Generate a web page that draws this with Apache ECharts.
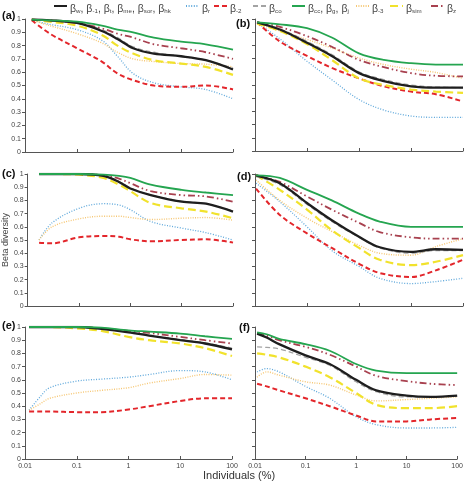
<!DOCTYPE html>
<html><head><meta charset="utf-8">
<script src="https://cdn.jsdelivr.net/npm/echarts@6/dist/echarts.min.js"></script>
<style>html,body{margin:0;padding:0;background:#fff}#c{width:466px;height:483px}</style>
</head><body><div id="c"></div>
<script>
// ---- names / legend ----
const seriesNames = ['βw, β-1, βt, βme, βsor, βhk','βr','β-2','βco','βcc, βg, βj','β-3','βsim','βz'];
const panelLabels = ['(a)','(b)','(c)','(d)','(e)','(f)'];
const xTickLabels = ['0.01','0.1','1','10','100'];

// ---- panel (a) ----
const xA = [0.0135, 0.03, 0.1, 0.3, 0.6, 1.2, 3, 10, 30, 100];
const aBlack  = [0.995, 0.99, 0.97, 0.91, 0.85, 0.78, 0.74, 0.72, 0.69, 0.62];
const aBlue   = [0.99, 0.96, 0.92, 0.84, 0.72, 0.59, 0.52, 0.49, 0.47, 0.40];
const aRed    = [0.99, 0.89, 0.78, 0.68, 0.59, 0.54, 0.50, 0.49, 0.50, 0.47];
const aGray   = [0.995, 0.99, 0.975, 0.92, 0.86, 0.79, 0.75, 0.72, 0.69, 0.63];
const aGreen  = [0.995, 0.99, 0.98, 0.95, 0.92, 0.90, 0.86, 0.83, 0.81, 0.77];
const aOrange = [0.99, 0.95, 0.89, 0.82, 0.75, 0.70, 0.68, 0.665, 0.66, 0.64];
const aYellow = [0.995, 0.98, 0.95, 0.88, 0.80, 0.74, 0.69, 0.665, 0.64, 0.58];
const aBrown  = [0.995, 0.99, 0.97, 0.93, 0.89, 0.86, 0.81, 0.78, 0.75, 0.70];

// ---- panel (b) ----
const xB = [0.011, 0.03, 0.1, 0.3, 1, 3, 10, 30, 100];
const bBlack  = [0.975, 0.92, 0.82, 0.72, 0.59, 0.53, 0.49, 0.48, 0.48];
const bBlue   = [0.97, 0.85, 0.68, 0.54, 0.39, 0.31, 0.265, 0.255, 0.255];
const bRed    = [0.975, 0.83, 0.72, 0.63, 0.55, 0.49, 0.45, 0.43, 0.375];
const bGray   = [0.975, 0.925, 0.83, 0.73, 0.60, 0.54, 0.50, 0.485, 0.48];
const bGreen  = [0.975, 0.96, 0.93, 0.86, 0.74, 0.69, 0.665, 0.655, 0.655];
const bOrange = [0.965, 0.91, 0.845, 0.78, 0.705, 0.655, 0.62, 0.595, 0.55];
const bYellow = [0.965, 0.91, 0.81, 0.69, 0.55, 0.50, 0.465, 0.45, 0.44];
const bBrown  = [0.975, 0.94, 0.87, 0.79, 0.69, 0.635, 0.59, 0.57, 0.565];

// ---- panel (c) ----
const xC = [0.0167, 0.03, 0.1, 0.3, 0.6, 1, 2.5, 10, 30, 100];
const cBlack  = [1, 1, 1, 0.985, 0.94, 0.89, 0.84, 0.79, 0.775, 0.715];
const cBlue   = [0.50, 0.63, 0.74, 0.775, 0.765, 0.73, 0.64, 0.59, 0.555, 0.50];
const cRed    = [0.48, 0.475, 0.52, 0.53, 0.525, 0.505, 0.49, 0.50, 0.505, 0.48];
const cGray   = [1, 1, 1, 0.985, 0.945, 0.895, 0.84, 0.795, 0.775, 0.72];
const cGreen  = [1, 1, 1, 0.995, 0.985, 0.97, 0.92, 0.88, 0.86, 0.84];
const cOrange = [0.50, 0.60, 0.66, 0.68, 0.68, 0.67, 0.655, 0.665, 0.67, 0.65];
const cYellow = [1, 1, 0.995, 0.97, 0.92, 0.87, 0.78, 0.74, 0.715, 0.665];
const cBrown  = [1, 1, 1, 0.99, 0.965, 0.93, 0.87, 0.84, 0.83, 0.79];

// ---- panel (d) ----
const xD = [0.0105, 0.03, 0.1, 0.3, 1, 2.5, 10, 30, 100];
const dBlack  = [0.99, 0.93, 0.78, 0.65, 0.525, 0.445, 0.41, 0.43, 0.425];
const dBlue   = [0.93, 0.79, 0.60, 0.42, 0.30, 0.21, 0.17, 0.185, 0.21];
const dRed    = [0.89, 0.69, 0.55, 0.44, 0.32, 0.25, 0.22, 0.27, 0.35];
const dGray   = [0.98, 0.92, 0.77, 0.64, 0.52, 0.44, 0.40, 0.42, 0.42];
const dGreen  = [0.99, 0.97, 0.88, 0.80, 0.70, 0.64, 0.60, 0.60, 0.60];
const dOrange = [0.955, 0.80, 0.665, 0.565, 0.46, 0.40, 0.385, 0.45, 0.51];
const dYellow = [0.99, 0.88, 0.73, 0.575, 0.44, 0.35, 0.31, 0.335, 0.385];
const dBrown  = [0.99, 0.94, 0.83, 0.73, 0.63, 0.56, 0.52, 0.51, 0.51];

// ---- panel (e) ----
const xE = [0.012, 0.02, 0.03, 0.1, 0.3, 1, 2.5, 10, 30, 100];
const eBlack  = [1, 1, 1, 1, 0.985, 0.96, 0.935, 0.90, 0.875, 0.83];
const eBlue   = [0.37, 0.475, 0.54, 0.59, 0.605, 0.62, 0.64, 0.67, 0.66, 0.60];
const eRed    = [0.36, 0.36, 0.36, 0.355, 0.355, 0.375, 0.40, 0.44, 0.46, 0.46];
const eGray   = [1, 1, 1, 1, 0.99, 0.965, 0.94, 0.905, 0.88, 0.84];
const eGreen  = [1, 1, 1, 1, 0.995, 0.975, 0.965, 0.95, 0.93, 0.91];
const eOrange = [0.37, 0.42, 0.46, 0.50, 0.52, 0.54, 0.575, 0.61, 0.64, 0.635];
const eYellow = [1, 1, 1, 0.99, 0.97, 0.925, 0.90, 0.875, 0.84, 0.78];
const eBrown  = [1, 1, 1, 1, 0.99, 0.97, 0.955, 0.925, 0.90, 0.875];

// ---- panel (f) ----
const xF = [0.011, 0.017, 0.03, 0.1, 0.3, 1, 2.5, 10, 30, 100];
const fBlack  = [0.95, 0.92, 0.87, 0.785, 0.72, 0.60, 0.52, 0.48, 0.47, 0.48];
const fBlue   = [0.66, 0.685, 0.66, 0.55, 0.46, 0.32, 0.26, 0.235, 0.235, 0.24];
const fRed    = [0.57, 0.55, 0.52, 0.46, 0.40, 0.33, 0.285, 0.285, 0.30, 0.31];
const fGray   = [0.85, 0.845, 0.835, 0.77, 0.71, 0.585, 0.51, 0.47, 0.47, 0.475];
const fGreen  = [0.96, 0.945, 0.91, 0.87, 0.82, 0.72, 0.67, 0.65, 0.65, 0.65];
const fOrange = [0.62, 0.66, 0.635, 0.585, 0.56, 0.485, 0.44, 0.45, 0.46, 0.47];
const fYellow = [0.80, 0.79, 0.77, 0.70, 0.62, 0.50, 0.41, 0.385, 0.385, 0.40];
const fBrown  = [0.955, 0.935, 0.90, 0.85, 0.79, 0.70, 0.63, 0.59, 0.57, 0.56];

// panel -> [x, black, blue, red, gray, green, orange, yellow, brown]
const panels = [
  [xA, aBlack, aBlue, aRed, aGray, aGreen, aOrange, aYellow, aBrown],
  [xB, bBlack, bBlue, bRed, bGray, bGreen, bOrange, bYellow, bBrown],
  [xC, cBlack, cBlue, cRed, cGray, cGreen, cOrange, cYellow, cBrown],
  [xD, dBlack, dBlue, dRed, dGray, dGreen, dOrange, dYellow, dBrown],
  [xE, eBlack, eBlue, eRed, eGray, eGreen, eOrange, eYellow, eBrown],
  [xF, fBlack, fBlue, fRed, fGray, fGreen, fOrange, fYellow, fBrown]
];

// ---- styles ----
const styles = [
  {color:'#1e1e1e', width:2.3, type:'solid'},
  {color:'#5fa8db', width:1.3, type:[1,1.6]},
  {color:'#e3262b', width:2, type:[5,3]},
  {color:'#a3a3a3', width:1.3, type:[5,3]},
  {color:'#25a550', width:1.8, type:'solid'},
  {color:'#f6c774', width:1.4, type:[1,1.4]},
  {color:'#f1e22c', width:2.2, type:[8,4]},
  {color:'#a8414f', width:1.8, type:[7,3,1.5,3,1.5,3]}
];
const drawOrder = [1, 5, 2, 6, 3, 7, 0, 4];

const grids = [
  {left:25, top:19, width:208, height:133},
  {left:255, top:19, width:208, height:132},
  {left:25, top:174, width:208, height:132},
  {left:255, top:174, width:208, height:132},
  {left:25, top:327, width:207, height:132},
  {left:255, top:327, width:208, height:132}
];

const FONT = 'Liberation Sans, Arial, sans-serif';
const xAxes = grids.map((g, i) => ({
  type:'log', logBase:10, min:0.01, max:100, gridIndex:i,
  axisLine:{lineStyle:{color:'#555', width:1}},
  axisTick:{show:true, inside:true, length:3, lineStyle:{color:'#555'}},
  minorTick:{show:false}, splitLine:{show:false},
  axisLabel:{show:i>=4, fontSize:7, color:'#444', margin:4, fontFamily:FONT,
    formatter: v => { const k = Math.round(Math.log10(v)) + 2; return xTickLabels[k] !== undefined ? xTickLabels[k] : ''; }}
}));
const yAxes = grids.map((g, i) => ({
  type:'value', min:0, max:1, interval:0.1, gridIndex:i,
  axisLine:{show:true, lineStyle:{color:'#555', width:1}},
  axisTick:{show:true, length:3, lineStyle:{color:'#555'}},
  splitLine:{show:false},
  axisLabel:{show:i%2===0, fontSize:7, color:'#444', margin:4, fontFamily:FONT},
  name: i===2 ? 'Beta diversity' : '',
  nameLocation:'middle', nameGap:16,
  nameTextStyle:{fontSize:9, color:'#444', fontFamily:FONT}
}));

const series = [];
panels.forEach((p, pi) => {
  drawOrder.forEach(si => {
    const vals = p[si + 1];
    const st = styles[si];
    series.push({
      type:'line', name:seriesNames[si], xAxisIndex:pi, yAxisIndex:pi,
      data: p[0].map((x, k) => [x, vals[k]]),
      smooth:0.35, symbol:'none', silent:true,
      lineStyle:{color:st.color, width:st.width, type:st.type},
      itemStyle:{color:st.color}
    });
  });
});

const legendLeft = [53, 185, 213, 252, 291, 355, 389, 430];
const fmt = name => name.split(', ').map(s => '{b|β}{s|' + s.slice(1) + '}').join('{b|, }');
const legends = seriesNames.map((n, i) => ({
  data:[n], left:legendLeft[i], top:2, itemWidth:13, itemHeight:10, itemGap:0,
  padding:0, selectedMode:false, formatter:fmt,
  itemStyle:{opacity:0, borderWidth:0},
  textStyle:{color:'#444', fontFamily:FONT, padding:[0,0,0,-2],
    rich:{b:{fontSize:10.5, lineHeight:12, verticalAlign:'bottom', color:'#444', fontFamily:FONT},
          s:{fontSize:6.2, lineHeight:17, verticalAlign:'bottom', color:'#444', fontFamily:FONT}}}
}));

const labelPos = [[2,10],[236,18],[2,168],[237,171],[2,320],[239,322]];
const graphics = panelLabels.map((t, i) => ({
  type:'text', left:labelPos[i][0], top:labelPos[i][1],
  style:{text:t, font:'bold 11px ' + FONT, fill:'#111'}
}));
graphics.push({type:'text', left:203, top:470, style:{text:'Individuals (%)', font:'11px ' + FONT, fill:'#333'}});

const chart = echarts.init(document.getElementById('c'), null, {renderer:'canvas'});
chart.setOption({
  animation:false,
  grid:grids, xAxis:xAxes, yAxis:yAxes, series:series,
  legend:legends, graphic:graphics
});
</script></body></html>
